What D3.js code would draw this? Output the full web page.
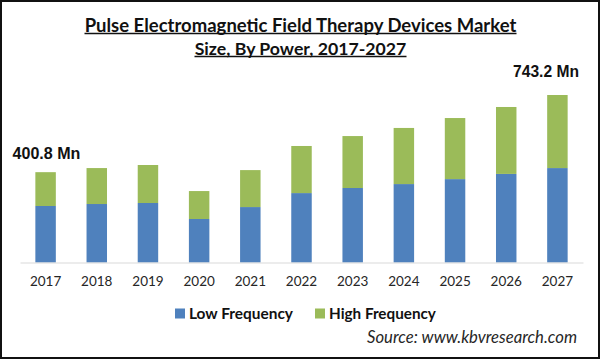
<!DOCTYPE html>
<html><head><meta charset="utf-8">
<script src="https://cdn.jsdelivr.net/npm/d3@7"></script>
<style>body{margin:0;background:#fff}svg{display:block}</style>
</head><body>
<script>
const years = ["2017","2018","2019","2020","2021","2022","2023","2024","2025","2026","2027"];
const lowFrequency  = [250.7, 259.5, 264, 193, 246, 308, 330.5, 348, 370, 393, 419];
const highFrequency = [150.1, 159.5, 168.6, 124, 164, 209, 230.5, 249, 271, 297, 324.2];
const seriesNames = ["Low Frequency", "High Frequency"];
const endLabels = ["400.8 Mn", "743.2 Mn"];
const titleLines = ["Pulse Electromagnetic Field Therapy Devices Market", "Size, By Power, 2017-2027"];
const sourceText = "Source: www.kbvresearch.com";

const W = 601, H = 360;
const colors = ["#4f81bd", "#9bbb59"];
const svg = d3.select("body").append("svg").attr("width", W).attr("height", H);
svg.append("rect").attr("x",1).attr("y",1).attr("width",W-3).attr("height",H-3)
  .attr("fill","#fff").attr("stroke","#111").attr("stroke-width",2);

const FONT = "Lato, 'Open Sans', sans-serif";
const ARIAL = "'Liberation Sans', Arial, sans-serif";
function fit(sel, target){
  const n = sel.node();
  let fs = parseFloat(sel.attr("font-size"));
  const w = n.getComputedTextLength();
  if (w > 0) sel.attr("font-size", (fs * target / w).toFixed(2));
  return sel;
}

const x = d3.scaleBand().domain(years).range([20, 583]).paddingInner(0.6).paddingOuter(0.3);
const y = d3.scaleLinear().domain([0, 743.2]).range([262.5, 95]);

const rows = years.map((yr,i)=>({year:yr, low:lowFrequency[i], high:highFrequency[i]}));
const stack = d3.stack().keys(["low","high"])(rows);

svg.append("g").selectAll("g").data(stack).join("g").attr("fill",(d,i)=>colors[i])
  .selectAll("rect").data(d=>d).join("rect")
  .attr("x", d=>x(d.data.year)).attr("width", x.bandwidth())
  .attr("y", d=>y(d[1])).attr("height", d=>y(d[0])-y(d[1]));

const axis = svg.append("g").attr("transform","translate(0,262.5)")
  .call(d3.axisBottom(x).tickSize(0).tickPadding(0));
axis.select(".domain").attr("stroke","#d9d9d9").attr("stroke-width",1);
axis.selectAll("text").attr("font-family",FONT).attr("font-size",13.5).attr("fill","#262626")
  .attr("dy",0).attr("y",23.5);

// title
titleLines.forEach((t,i)=>{
  const by = [31.5, 54.5][i];
  const tw = [432, 212][i];
  const tx = svg.append("text").attr("x",300.5).attr("y",by).attr("text-anchor","middle")
    .attr("font-family",FONT).attr("font-weight","bold").attr("font-size",18).attr("fill","#111").text(t);
  fit(tx, tw);
  svg.append("line").attr("x1",300.5-tw/2).attr("x2",300.5+tw/2).attr("y1",by+2).attr("y2",by+2)
    .attr("stroke","#111").attr("stroke-width",1.5);
});

// end labels
const l1 = svg.append("text").attr("x",12.5).attr("y",159).attr("font-family",ARIAL).attr("font-weight","bold")
  .attr("font-size",15).attr("fill","#111").text(endLabels[0]);
fit(l1, 68);
const l2 = svg.append("text").attr("x",579).attr("y",76.5).attr("text-anchor","end").attr("font-family",ARIAL).attr("font-weight","bold")
  .attr("font-size",15).attr("fill","#111").text(endLabels[1]);
fit(l2, 66);

// legend
const legX = [175, 315], legW = [104, 107];
seriesNames.forEach((s,i)=>{
  svg.append("rect").attr("x",legX[i]).attr("y",308.5).attr("width",10).attr("height",10).attr("fill",colors[i]);
  const t = svg.append("text").attr("x",legX[i]+14).attr("y",318.5).attr("font-family",FONT).attr("font-weight","bold")
    .attr("font-size",15).attr("fill","#111").text(s);
  fit(t, legW[i]);
});

const src = svg.append("text").attr("x",577).attr("y",343).attr("text-anchor","end").attr("font-family",FONT)
  .attr("font-style","italic").attr("font-size",15).attr("fill","#262626").text(sourceText);
fit(src, 210);
</script>
</body></html>
